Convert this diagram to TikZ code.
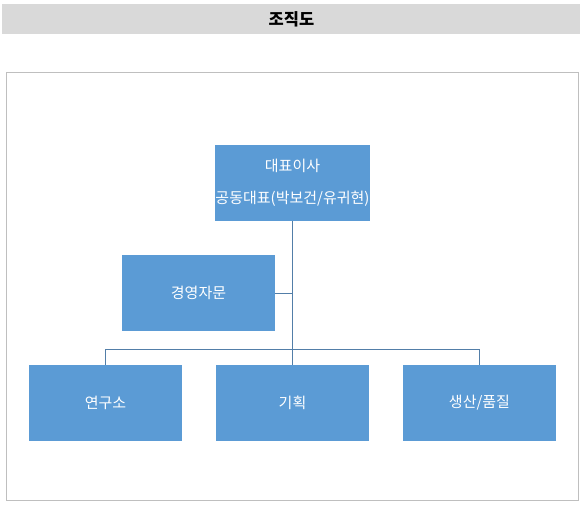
\documentclass[tikz,border=0pt]{standalone}
\usepackage{fontspec}
\setmainfont{Noto Sans CJK KR}
\usepackage{tikz}

\definecolor{boxblue}{RGB}{91,155,213}
\definecolor{linkblue}{RGB}{82,126,168}
\definecolor{titlegray}{RGB}{217,217,217}
\definecolor{framegray}{RGB}{191,191,191}

\tikzset{
  orgbox/.style = {fill=boxblue, text=white, minimum width=153pt, minimum height=76pt,
                   inner sep=0pt, align=center, font=\fontsize{15}{32}\selectfont},
  link/.style = {draw=linkblue, line width=1pt}
}

\begin{document}
\begin{tikzpicture}[x=1pt, y=-1pt]
  \useasboundingbox (0,0) rectangle (583,508);
  % title bar
  \fill[titlegray] (2,4) rectangle (580,34);
  \node[font=\fontsize{16.5}{18}\selectfont\bfseries] (title) at (291.5,19) {조직도};
  \draw[framegray, line width=1pt] (6.5,72.5) rectangle (578.5,500.5);
  % boxes
  \node[orgbox] (ceo) at (292.5,183) {대표이사\\공동대표(박보건/유귀현)};
  \node[orgbox] (adv) at (198.5,293) {경영자문};
  \node[orgbox] (lab) at (105.5,403) {연구소};
  \node[orgbox] (plan) at (292.5,403) {기획};
  \node[orgbox] (prod) at (479.5,403) {생산/품질};
  % connectors
  \coordinate (hub) at (292.5,349);
  \draw[link] (ceo.south) -- (hub);
  \draw[link] (adv.east) -- (adv.east -| ceo.south);
  \draw[link] (hub) -| (lab.north);
  \draw[link] (hub) -| (prod.north);
  \draw[link] (hub) -- (plan.north);
\end{tikzpicture}
\end{document}
